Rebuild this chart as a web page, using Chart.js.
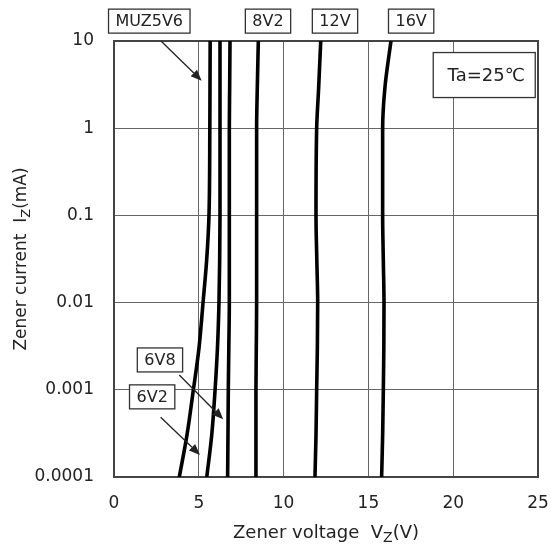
<!DOCTYPE html>
<html>
<head>
<meta charset="utf-8">
<script src="https://cdn.jsdelivr.net/npm/chart.js@4.4.1/dist/chart.umd.min.js"></script>
<style>
body { margin: 0; background: #fff; }
canvas { display: block; }
</style>
</head>
<body>
<canvas id="myChart" width="551" height="548"></canvas>
<script>
// Zener current (mA) and the voltage read for each part
const currents = [0.0001, 0.0003, 0.001, 0.003, 0.01, 0.03, 0.1, 1, 3, 10];
const vMUZ5V6 = [3.85, 4.30, 4.68, 5.01, 5.25, 5.46, 5.60, 5.65, 5.66, 5.67];
const v6V2 = [5.47, 5.76, 5.96, 6.10, 6.19, 6.23, 6.25, 6.25, 6.25, 6.25];
const v6V8 = [6.70, 6.72, 6.74, 6.77, 6.80, 6.80, 6.80, 6.80, 6.82, 6.84];
const v8V2 = [8.37, 8.37, 8.37, 8.39, 8.41, 8.41, 8.41, 8.41, 8.45, 8.51];
const v12V = [11.85, 11.91, 11.95, 11.99, 12.01, 11.96, 11.91, 11.95, 12.07, 12.19];
const v16V = [15.78, 15.84, 15.88, 15.91, 15.92, 15.88, 15.84, 15.84, 15.98, 16.33];
const yTicks = [0.0001, 0.001, 0.01, 0.1, 1, 10];
const xTicks = [0, 5, 10, 15, 20, 25];

const FONT = 'DejaVu Sans';
const INK = '#222';

const series = [vMUZ5V6, v6V2, v6V8, v8V2, v12V, v16V];

// labels and arrows, in data units (x: V, y: mA)
const boxes = [
    { text: 'MUZ5V6', x: 2.08, y: 16.9 },
    { text: '8V2', x: 9.08, y: 16.9 },
    { text: '12V', x: 13.03, y: 16.9 },
    { text: '16V', x: 17.52, y: 16.9 },
    { text: '6V8', x: 2.71, y: 0.0022 },
    { text: '6V2', x: 2.25, y: 0.00083 },
];
const arrows = [
    { from: [2.77, 10], to: [5.17, 3.51] },
    { from: [3.85, 0.00148], to: [6.44, 0.000459] },
    { from: [2.75, 0.000484], to: [5.07, 0.000179] },
];

function drawArrow(ctx, x1, y1, x2, y2) {
    const a = Math.atan2(y2 - y1, x2 - x1);
    const len = 11, half = 4.5;
    ctx.beginPath();
    ctx.moveTo(x1, y1);
    ctx.lineTo(x2 - len * Math.cos(a), y2 - len * Math.sin(a));
    ctx.stroke();
    ctx.beginPath();
    ctx.moveTo(x2, y2);
    ctx.lineTo(x2 - len * Math.cos(a) + half * Math.sin(a), y2 - len * Math.sin(a) - half * Math.cos(a));
    ctx.lineTo(x2 - len * Math.cos(a) - half * Math.sin(a), y2 - len * Math.sin(a) + half * Math.cos(a));
    ctx.closePath();
    ctx.fill();
}

function subText(ctx, parts, cx, cy, size) {
    // parts: [text, isSub]
    const sub = Math.round(size * 0.75);
    let w = 0;
    parts.forEach(p => {
        ctx.font = (p[1] ? sub : size) + 'px ' + FONT;
        w += ctx.measureText(p[0]).width;
    });
    let x = cx - w / 2;
    parts.forEach(p => {
        ctx.font = (p[1] ? sub : size) + 'px ' + FONT;
        ctx.fillText(p[0], x, p[1] ? cy + 5 : cy);
        x += ctx.measureText(p[0]).width;
    });
}

const decor = {
    id: 'decor',
    beforeDatasetsDraw(chart) {
        const { ctx, chartArea: c } = chart;
        ctx.save();
        ctx.strokeStyle = '#444';
        ctx.lineWidth = 2;
        ctx.strokeRect(c.left, c.top, c.right - c.left, c.bottom - c.top);
        ctx.restore();
    },
    afterDraw(chart) {
        const { ctx, chartArea: c } = chart;
        const xs = chart.scales.x, ys = chart.scales.y;
        ctx.save();
        ctx.fillStyle = INK;
        ctx.strokeStyle = INK;
        ctx.lineWidth = 1.3;
        arrows.forEach(a => {
            drawArrow(ctx, xs.getPixelForValue(a.from[0]), ys.getPixelForValue(a.from[1]),
                xs.getPixelForValue(a.to[0]), ys.getPixelForValue(a.to[1]));
        });

        ctx.font = '16px ' + FONT;
        ctx.textBaseline = 'middle';
        ctx.textAlign = 'center';
        boxes.forEach(b => {
            const px = xs.getPixelForValue(b.x), py = ys.getPixelForValue(b.y);
            const w = ctx.measureText(b.text).width + 14, h = 24;
            ctx.fillStyle = '#fff';
            ctx.fillRect(px - w / 2, py - h / 2, w, h);
            ctx.strokeStyle = '#333';
            ctx.lineWidth = 1.3;
            ctx.strokeRect(px - w / 2, py - h / 2, w, h);
            ctx.fillStyle = INK;
            ctx.fillText(b.text, px, py + 1);
        });

        // Ta box
        const tx = xs.getPixelForValue(21.83), ty = ys.getPixelForValue(4.07);
        ctx.fillStyle = '#fff';
        ctx.fillRect(tx - 51, ty - 22.5, 102, 45);
        ctx.strokeStyle = '#333';
        ctx.strokeRect(tx - 51, ty - 22.5, 102, 45);
        ctx.fillStyle = INK;
        ctx.font = '18px ' + FONT;
        ctx.fillText('Ta=25℃', tx + 2, ty + 1);

        // axis titles
        ctx.textAlign = 'left';
        subText(ctx, [['Zener voltage  V', 0], ['Z', 1], ['(V)', 0]], (c.left + c.right) / 2, 533, 18);
        ctx.translate(22, (c.top + c.bottom) / 2);
        ctx.rotate(-Math.PI / 2);
        subText(ctx, [['Zener current  I', 0], ['Z', 1], ['(mA)', 0]], 0, 0, 17);
        ctx.restore();
    }
};

const ctx = document.getElementById('myChart').getContext('2d');
const conf = {
    type: 'line',
    data: {
        datasets: series.map(v => ({
            data: currents.map((c, i) => ({ x: v[i], y: c })),
            borderColor: '#000',
            borderWidth: 3.6,
            pointRadius: 0,
            cubicInterpolationMode: 'monotone',
            fill: false,
        }))
    },
    options: {
        indexAxis: 'y',
        responsive: false,
        animation: false,
        layout: { padding: { top: 41, right: 13, left: 0, bottom: 0 } },
        plugins: {
            legend: false,
            tooltip: { enabled: false },
        },
        scales: {
            x: {
                type: 'linear',
                position: 'bottom',
                min: 0,
                max: 25,
                afterBuildTicks: s => { s.ticks = xTicks.map(v => ({ value: v })); },
                afterFit: s => { s.height = 71; s.paddingLeft = 0; s.paddingRight = 0; },
                grid: { color: '#666', lineWidth: 1, drawTicks: false },
                border: { display: false },
                ticks: { padding: 16, color: INK, font: { family: FONT, size: 17 } },
            },
            y: {
                type: 'logarithmic',
                position: 'left',
                min: 0.0001,
                max: 10,
                afterBuildTicks: s => { s.ticks = yTicks.map(v => ({ value: v })); },
                afterFit: s => { s.width = 114; s.paddingTop = 0; s.paddingBottom = 0; },
                grid: { color: '#666', lineWidth: 1, drawTicks: false },
                border: { display: false },
                ticks: {
                    padding: 20,
                    color: INK,
                    font: { family: FONT, size: 17 },
                    callback: v => String(v),
                },
            },
        },
    },
    plugins: [decor],
};
const myChart = new Chart(ctx, conf);
</script>
</body>
</html>
